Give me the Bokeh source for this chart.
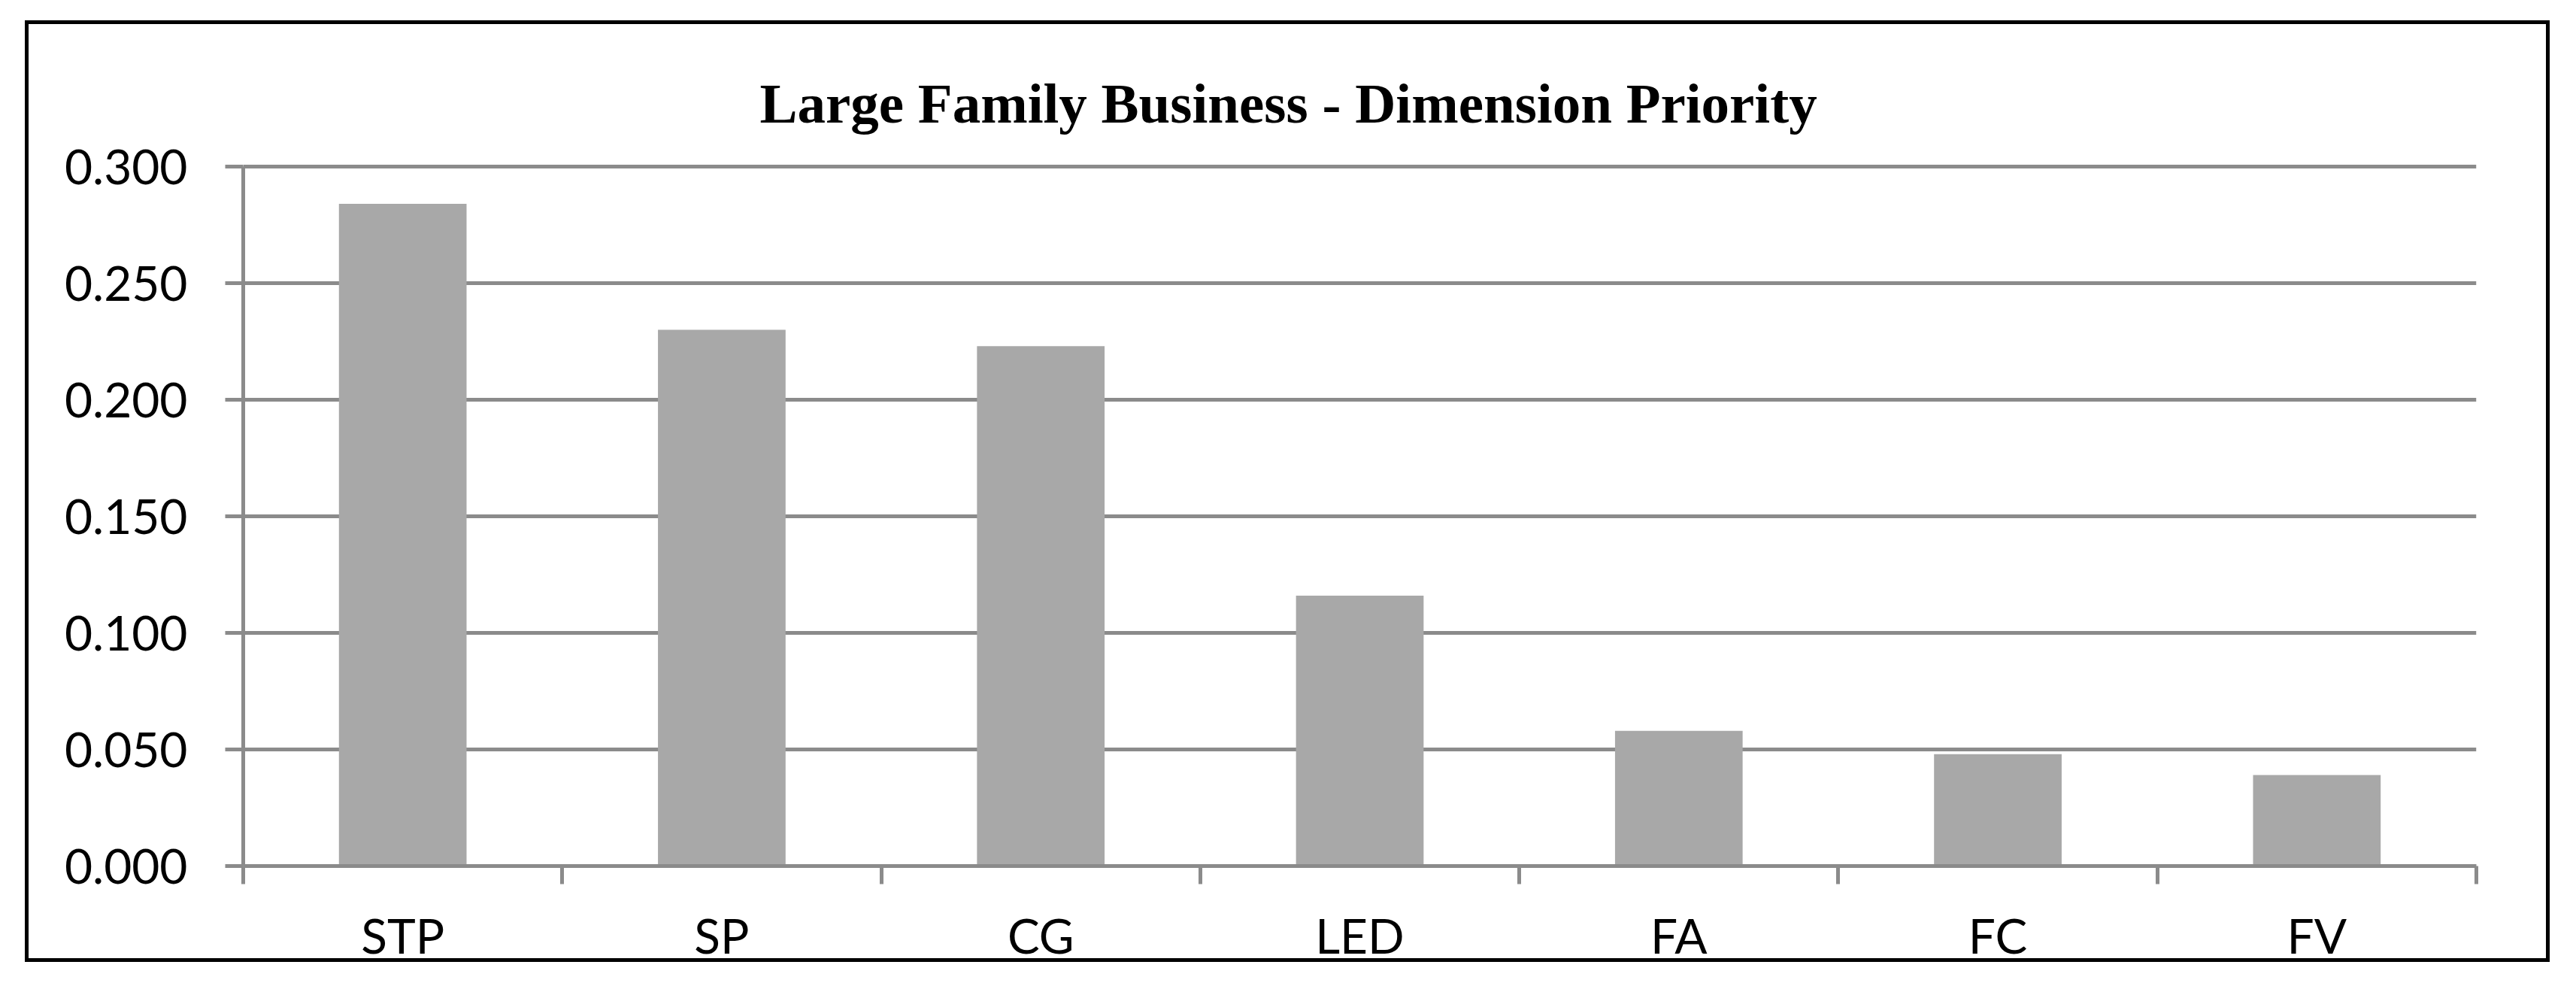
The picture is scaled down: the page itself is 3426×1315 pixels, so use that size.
from bokeh.plotting import figure
from bokeh.models import Range1d, FixedTicker, NumeralTickFormatter
from bokeh.embed import file_html
from bokeh.resources import INLINE

# ---- data ----
categories = ["STP", "SP", "CG", "LED", "FA", "FC", "FV"]
values = [0.284, 0.230, 0.223, 0.116, 0.058, 0.048, 0.039]
y_ticks = [0.000, 0.050, 0.100, 0.150, 0.200, 0.250, 0.300]
title_text = "Large Family Business - Dimension Priority"

# ---- layout (page px) ----
BX0, BY0, BX1, BY1 = 33, 27, 3391, 1279   # outer black border box (outer edges)
BW = 5                                     # border width
K = 14                                     # canvas margin around border box
OX, OY = BX0 - K, BY0 - K
CW, CH = (BX1 - BX0) + 2 * K, (BY1 - BY0) + 2 * K
X0, X1 = 323, 3293         # plot area left/right (page px)
Y_TOP, Y0 = 221, 1151      # y=max tick / y=0 (page px)
PAD = 3                    # frame extends a little above the top tick
GRAY = "#8B8B8B"
BAR = "#A8A8A8"

n = len(categories)
centers = [i + 0.5 for i in range(n)]
ymax = max(y_ticks)
y_end = ymax + ymax * PAD / (Y0 - Y_TOP)

FL = X0 - OX
FR = X1 - OX
FT = Y_TOP - PAD - OY
FB = Y0 - OY

p = figure(width=CW, height=CH, output_backend="svg", toolbar_location=None,
           x_range=Range1d(0, n), y_range=Range1d(0, y_end),
           min_border_left=FL, min_border_right=CW - FR,
           min_border_top=FT, min_border_bottom=CH - FB,
           margin=(OY, 0, 0, OX),
           styles={"outline": f"{BW}px solid black",
                   "outline-offset": f"-{K + BW}px"})
p.background_fill_color = "white"
p.border_fill_color = None
p.outline_line_color = None

# title
p.title.text = title_text
p.title.align = "left"
p.title.offset = 1010 - X0
p.title.text_font = "Liberation Serif"
p.title.text_font_style = "bold"
p.title.text_font_size = "75px"
p.title.text_color = "black"
p.title.standoff = 80

# bars
p.vbar(x=centers, top=values, bottom=0, width=0.4, fill_color=BAR, line_color=None)

# x axis
xa = p.xaxis[0]
xa.ticker = FixedTicker(ticks=centers, minor_ticks=list(range(n + 1)))
xa.major_label_overrides = {c: lab for c, lab in zip(centers, categories)}
xa.major_tick_line_color = None
xa.major_tick_out = 24
xa.major_tick_in = 0
xa.minor_tick_line_color = GRAY
xa.minor_tick_line_width = 5
xa.minor_tick_out = 24
xa.minor_tick_in = 0
xa.axis_line_color = GRAY
xa.axis_line_width = 5
xa.major_label_text_font = "Lato"
xa.major_label_text_font_size = "64px"
xa.major_label_text_color = "black"
xa.major_label_standoff = 29

# y axis
ya = p.yaxis[0]
ya.ticker = FixedTicker(ticks=y_ticks, minor_ticks=[])
ya.formatter = NumeralTickFormatter(format="0.000")
ya.bounds = (0, ymax)
ya.major_tick_line_color = GRAY
ya.major_tick_line_width = 5
ya.major_tick_out = 24
ya.major_tick_in = 0
ya.minor_tick_line_color = None
ya.axis_line_color = GRAY
ya.axis_line_width = 5
ya.major_label_text_font = "Lato"
ya.major_label_text_font_size = "64px"
ya.major_label_text_color = "black"
ya.major_label_standoff = 50

# grid
p.xgrid.visible = False
p.ygrid.ticker = FixedTicker(ticks=y_ticks, minor_ticks=[])
p.ygrid.grid_line_color = GRAY
p.ygrid.grid_line_width = 5

open("out.html", "w").write(file_html(p, INLINE))
